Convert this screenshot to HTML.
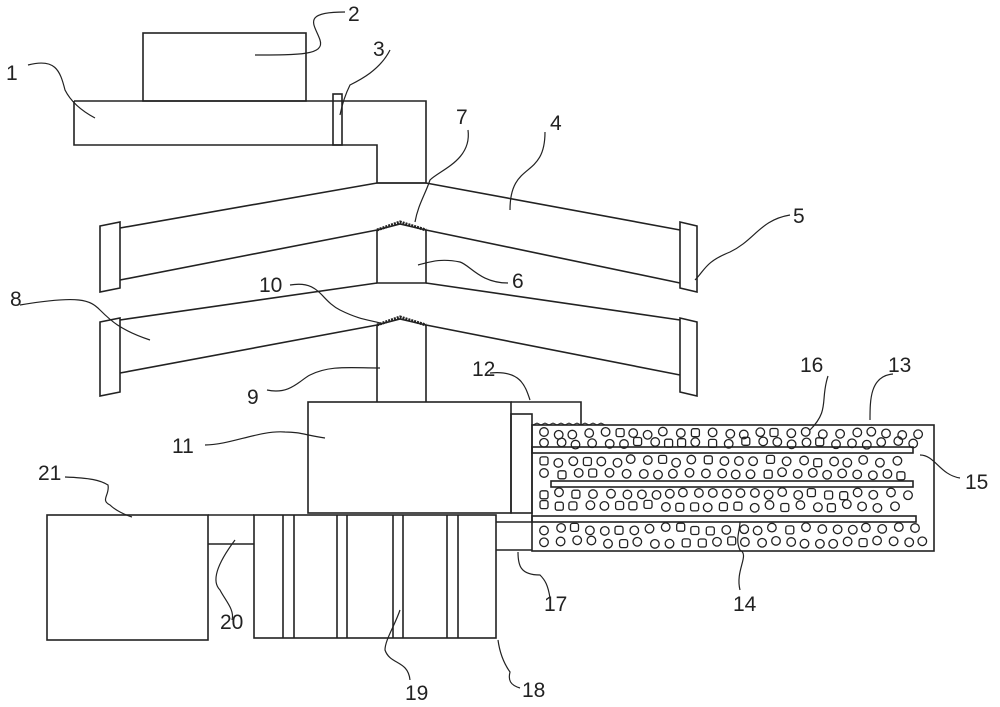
<!DOCTYPE html>
<html><head><meta charset="utf-8"><style>body{margin:0;background:#fff}svg{display:block}text{font-family:"Liberation Sans",sans-serif;font-size:21px;fill:#222}</style></head><body>
<svg id="s" width="1000" height="707" viewBox="0 0 1000 707" fill="none" stroke="#222" stroke-width="1.6">
<rect x="143" y="33" width="163" height="68"/>
<polyline points="74,101 426,101 426,183 377,183 377,145 74,145 74,101"/>
<rect x="333" y="94" width="9" height="51"/>
<!-- top fan -->
<polyline points="120,228 377,183 426,183 680,230"/>
<polyline points="120,280 377,230 400,224 426,230 680,283"/>
<polygon points="100,226 120,222 120,288 100,292"/>
<polygon points="680,222 697,226 697,292 680,288"/>
<path d="M377,230 L400,222 L426,230" stroke-width="3" stroke-dasharray="2,1"/>
<polyline points="377,230 377,283 426,283 426,230"/>
<!-- second fan -->
<polyline points="120,320 377,283"/>
<polyline points="426,283 680,320"/>
<polyline points="120,373 377,325 400,319 426,325 680,375"/>
<path d="M377,325 L400,317 L426,325" stroke-width="3" stroke-dasharray="2,1"/>
<polygon points="100,322 120,318 120,392 100,396"/>
<polygon points="680,318 697,322 697,396 680,392"/>
<polyline points="377,325 377,402"/><polyline points="426,325 426,402"/>
<rect x="308" y="402" width="203" height="111"/>
<polyline points="511,402 581,402 581,425"/>
<rect x="511" y="414" width="21" height="99"/>
<!-- tank -->
<rect x="532" y="425" width="402" height="126"/>
<rect x="532" y="447" width="381" height="6"/>
<rect x="551" y="481" width="362" height="6"/>
<rect x="532" y="516" width="384" height="6"/>
<path d="M533,425 l4,-2 4,2 4,-2 4,2 4,-2 4,2 4,-2 4,2 4,-2 4,2 4,-2 4,2 4,-2 4,2 4,-2 4,2 4,-2 4,2" stroke-width="1"/>
<g id="c" stroke-width="1.3"></g>
<!-- bottom -->
<rect x="254" y="515" width="242" height="123"/>
<path d="M283,515V638M294,515V638M337,515V638M347,515V638M393,515V638M403,515V638M447,515V638M458,515V638"/>
<rect x="47" y="515" width="161" height="125"/>
<polyline points="208,515 254,515"/><polyline points="208,544 254,544"/>
<polyline points="496,522 532,522"/><polyline points="496,550 532,550"/>
<!-- leaders -->
<g stroke-width="1.2">
<path d="M28,65 C55,58 60,70 65,90 C70,100 80,110 95,118"/>
<path d="M345,12 C300,12 315,25 320,40 C325,55 300,55 255,55"/>
<path d="M390,50 C380,70 360,80 350,85 C345,95 342,105 340,115"/>
<path d="M468,130 C472,160 440,170 430,180 C425,195 418,205 415,222"/>
<path d="M545,132 C545,180 510,160 510,210"/>
<path d="M790,215 C760,220 755,240 730,252 C705,262 705,270 695,280"/>
<path d="M508,283 C480,283 470,265 460,262 C440,258 430,262 418,265"/>
<path d="M20,305 C80,295 90,300 100,310 C110,320 120,330 150,340"/>
<path d="M290,285 C320,280 320,300 340,310 C360,320 370,320 380,323"/>
<path d="M267,390 C290,395 300,380 310,375 C330,365 350,368 380,368"/>
<path d="M490,373 C520,370 525,385 530,400"/>
<path d="M828,376 C820,400 830,410 810,430"/>
<path d="M893,374 C870,376 870,400 870,420"/>
<path d="M205,445 C230,445 260,430 285,432 C300,432 305,435 325,438"/>
<path d="M65,477 C90,478 100,480 108,485 C110,495 100,500 110,505 C115,510 125,515 132,517"/>
<path d="M960,478 C940,475 935,455 920,455"/>
<path d="M740,590 C735,570 750,555 740,550 C735,540 740,530 740,522"/>
<path d="M550,598 C548,585 545,580 540,575 C520,575 518,565 518,552"/>
<path d="M232,620 C235,610 225,600 220,590 C210,580 220,560 235,540"/>
<path d="M410,680 C408,660 390,665 385,650 C385,640 395,625 400,610"/>
<path d="M520,688 C510,685 508,680 510,672 C505,665 500,655 498,640"/>
</g>
<g stroke="none">
<text x="6" y="80">1</text><text x="348" y="21">2</text><text x="373" y="56">3</text>
<text x="456" y="124">7</text><text x="550" y="130">4</text><text x="793" y="223">5</text>
<text x="512" y="288">6</text><text x="10" y="306">8</text><text x="259" y="292">10</text>
<text x="247" y="404">9</text><text x="472" y="376">12</text><text x="800" y="372">16</text>
<text x="888" y="372">13</text><text x="172" y="453">11</text><text x="38" y="480">21</text>
<text x="965" y="489">15</text><text x="733" y="611">14</text><text x="544" y="611">17</text>
<text x="220" y="629">20</text><text x="405" y="700">19</text><text x="522" y="697">18</text>
</g>
</svg>
<script>
var g=document.getElementById('c'),s=1,h='';function r(){s=(s*9301+49297)%233280;return s/233280}
[[433,443,540,930],[461,474,540,910],[494,506,540,912],[529,542,540,930]].forEach(function(row){
row.slice(0,2).forEach(function(y){for(var x=row[2]+4;x<row[3]-3;x+=13+r()*5){var yy=y+(r()-.5)*4;
if(r()<0.3)h+='<rect x="'+(x-4).toFixed(1)+'" y="'+(yy-4).toFixed(1)+'" width="8" height="8" rx="2"/>';
else h+='<circle cx="'+x.toFixed(1)+'" cy="'+yy.toFixed(1)+'" r="4.3"/>';}})});
g.innerHTML=h;
</script>
</body></html>
